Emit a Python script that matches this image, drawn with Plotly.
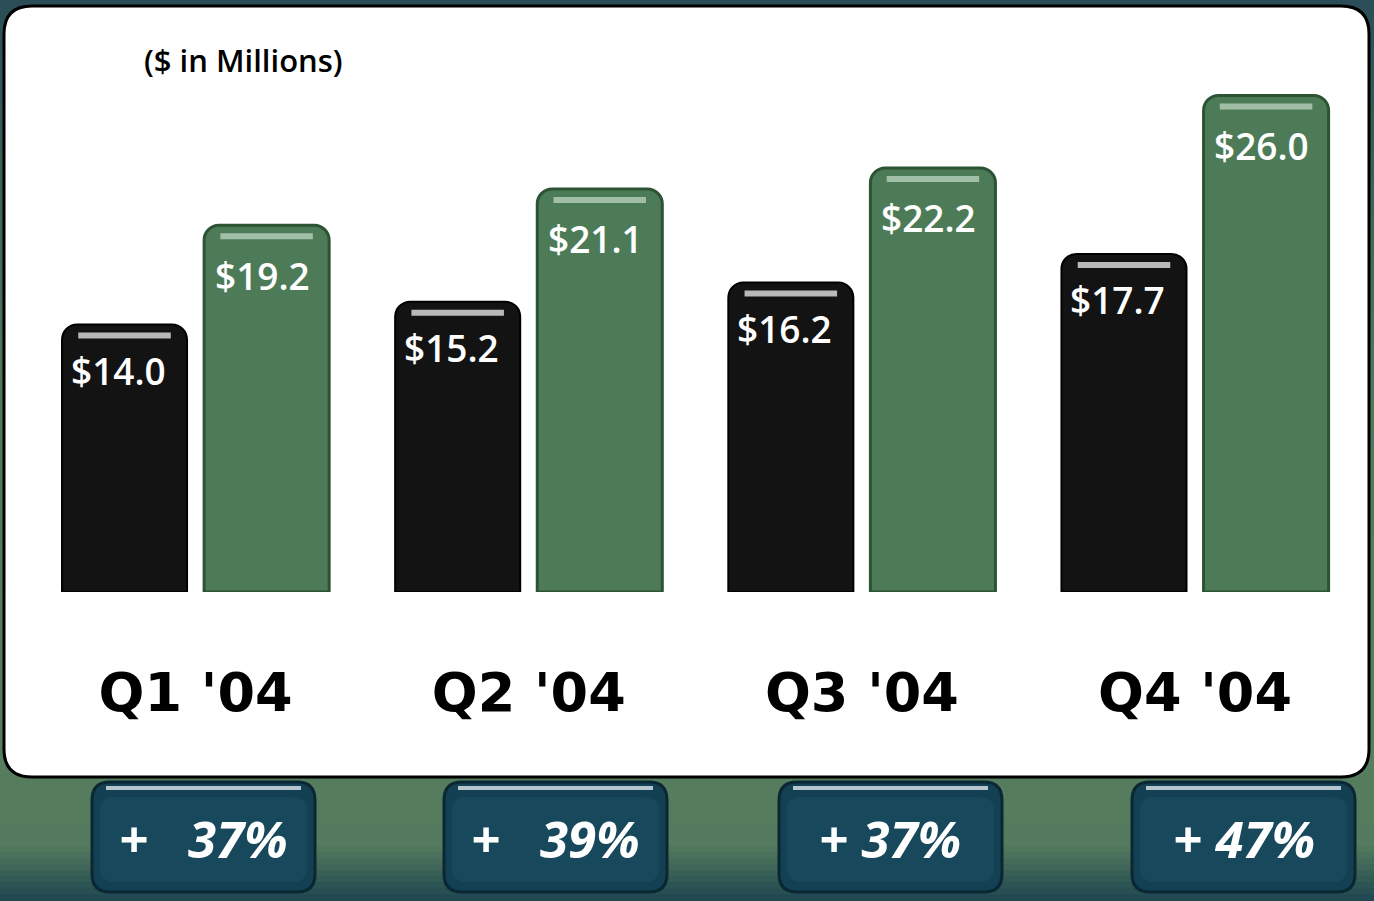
import plotly.graph_objects as go

# ---------------- data ----------------
quarters = ["Q1 '04", "Q2 '04", "Q3 '04", "Q4 '04"]
prior_year = [14.0, 15.2, 16.2, 17.7]
current_year = [19.2, 21.1, 22.2, 26.0]
growth_labels = ["+\u00a0\u00a0 37%", "+\u00a0\u00a0 39%", "+ 37%", "+ 47%"]
unit_note = "($ in Millions)"

W, H = 1374, 901

def px(x):
    return x / W

def py(y):
    return 1 - y / H

def rounded_path(x0, y0, x1, y1, r):
    # pixel coords -> paper path
    pts = []
    pts.append(f"M {px(x0 + r)},{py(y0)}")
    pts.append(f"L {px(x1 - r)},{py(y0)}")
    pts.append(f"Q {px(x1)},{py(y0)} {px(x1)},{py(y0 + r)}")
    pts.append(f"L {px(x1)},{py(y1 - r)}")
    pts.append(f"Q {px(x1)},{py(y1)} {px(x1 - r)},{py(y1)}")
    pts.append(f"L {px(x0 + r)},{py(y1)}")
    pts.append(f"Q {px(x0)},{py(y1)} {px(x0)},{py(y1 - r)}")
    pts.append(f"L {px(x0)},{py(y0 + r)}")
    pts.append(f"Q {px(x0)},{py(y0)} {px(x0 + r)},{py(y0)}")
    pts.append("Z")
    return " ".join(pts)

def hex_to_rgb(h):
    h = h.lstrip("#")
    return tuple(int(h[i:i + 2], 16) for i in (0, 2, 4))

def blend(c1, c2, t):
    a, b = hex_to_rgb(c1), hex_to_rgb(c2)
    return "rgb(%d,%d,%d)" % tuple(round(a[i] + (b[i] - a[i]) * t) for i in range(3))

shapes = []

# background gradient bands (teal -> green -> teal)
stops = [(0, "#2b4d57"), (380, "#4f775b"), (700, "#567e5e"), (845, "#547b5d"), (901, "#1e4550")]
band = 6
y = 0
while y < H:
    yc = y + band / 2
    for (ya, ca), (yb, cb) in zip(stops[:-1], stops[1:]):
        if ya <= yc <= yb:
            col = blend(ca, cb, (yc - ya) / (yb - ya))
            break
    shapes.append(dict(type="rect", xref="paper", yref="paper", x0=0, x1=1,
                       y0=py(min(y + band, H)), y1=py(y), fillcolor=col,
                       line=dict(width=0), layer="below"))
    y += band

# white panel
shapes.append(dict(type="path", xref="paper", yref="paper",
                   path=rounded_path(4, 6, 1369, 777, 28),
                   fillcolor="white", line=dict(color="black", width=3), layer="below"))

# growth boxes
box_x = [(92, 315), (444, 667), (779, 1002), (1132, 1355)]
for (bx0, bx1) in box_x:
    shapes.append(dict(type="path", xref="paper", yref="paper",
                       path=rounded_path(bx0, 782, bx1, 892, 18),
                       fillcolor="#134052", line=dict(color="#0a2733", width=3), layer="below"))
    shapes.append(dict(type="path", xref="paper", yref="paper",
                       path=rounded_path(bx0 + 8, 797, bx1 - 8, 882, 14),
                       fillcolor="#18485b", line=dict(width=0), layer="below"))
    shapes.append(dict(type="line", xref="paper", yref="paper",
                       x0=px(bx0 + 14), x1=px(bx1 - 14), y0=py(788), y1=py(788),
                       line=dict(color="#b7c5cf", width=4), layer="below"))

# bar geometry in category units (derived from layout gaps)
bargap, bargroupgap = 0.147, 0.12
slot = (1 - bargap) / 2
offset = slot / 2
hl_half = slot * (1 - bargroupgap) / 2 * 0.74

for i, (p, c) in enumerate(zip(prior_year, current_year)):
    for val, off, col in ((p, -offset, "rgba(215,215,215,0.85)"), (c, offset, "rgba(190,212,192,0.75)")):
        shapes.append(dict(type="line", xref="x", yref="y", ysizemode="pixel", yanchor=val,
                           x0=i + off - hl_half, x1=i + off + hl_half, y0=-11, y1=-11,
                           line=dict(color=col, width=6), layer="above"))

fig = go.Figure()
fig.add_trace(go.Bar(x=quarters, y=prior_year, name="2003",
                     marker=dict(color="#131313", line=dict(color="#000000", width=2)),
                     hoverinfo="x+y"))
fig.add_trace(go.Bar(x=quarters, y=current_year, name="2004",
                     marker=dict(color="#4e7b57", line=dict(color="#2c5434", width=3)),
                     hoverinfo="x+y"))

annotations = []
for i, q in enumerate(quarters):
    annotations.append(dict(x=i, y=prior_year[i], xref="x", yref="y",
                            text=f"${prior_year[i]:.1f}", showarrow=False,
                            xshift=-71.5 - 6, yshift=-46,
                            font=dict(family="Open Sans", size=37, color="white", weight=600)))
    annotations.append(dict(x=i, y=current_year[i], xref="x", yref="y",
                            text=f"${current_year[i]:.1f}", showarrow=False,
                            xshift=71.5 - 5, yshift=-50,
                            font=dict(family="Open Sans", size=37, color="white", weight=600)))

for (bx0, bx1), lab in zip(box_x, growth_labels):
    annotations.append(dict(x=px((bx0 + bx1) / 2), y=py(838), xref="paper", yref="paper",
                            text=lab, showarrow=False, xanchor="center", yanchor="middle",
                            font=dict(family="Open Sans", size=51, color="white",
                                      weight="bold", style="italic")))

annotations.append(dict(x=px(244), y=py(60), xref="paper", yref="paper", text=unit_note,
                        showarrow=False, xanchor="center", yanchor="middle",
                        font=dict(family="Open Sans", size=31, color="black", weight=600)))

fig.update_layout(
    width=W, height=H, autosize=False,
    margin=dict(l=0, r=0, t=0, b=0, pad=0),
    paper_bgcolor="#2b4d57", plot_bgcolor="rgba(0,0,0,0)",
    barmode="group", bargap=bargap, bargroupgap=bargroupgap, barcornerradius=15,
    showlegend=False,
    shapes=shapes, annotations=annotations,
    xaxis=dict(domain=[px(29), px(1361.6)], range=[-0.5, 3.5], showgrid=False,
               zeroline=False, showline=False, ticks="",
               tickfont=dict(family="DejaVu Sans", size=54, color="black", weight="bold"),
               ticklabelstandoff=64),
    yaxis=dict(domain=[py(592), py(19)], range=[0, 30], visible=False),
)

fig.write_html("out.html", config={"displayModeBar": False},
               post_script="document.body.style.margin='0';")
